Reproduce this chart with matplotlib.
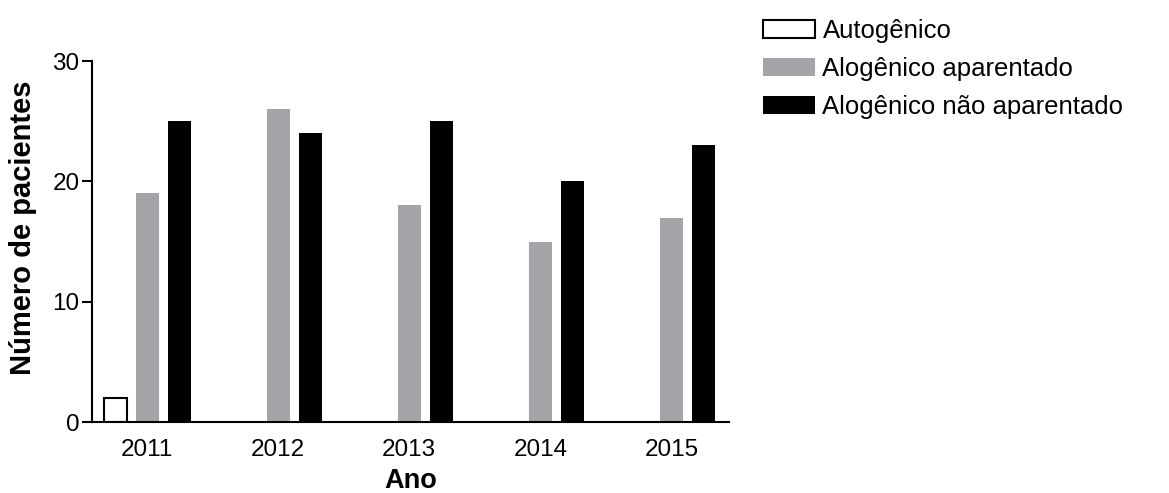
import matplotlib
matplotlib.use("Agg")
import matplotlib.pyplot as plt
import numpy as np

plt.rcParams["font.family"] = ["Liberation Sans", "DejaVu Sans"]

# dados
anos = ["2011", "2012", "2013", "2014", "2015"]
autogenico = [2, 0, 0, 0, 0]
alo_aparentado = [19, 26, 18, 15, 17]
alo_nao_aparentado = [25, 24, 25, 20, 23]

fig = plt.figure(figsize=(11.69, 4.93), dpi=100)
ax = fig.add_axes([0.0787, 0.144, 0.545, 0.732])

x = np.arange(len(anos))
w = 0.176
step = 0.244

# barras de zero nao aparecem no original
aut = np.array(autogenico, dtype=float)
mask = aut > 0
ax.bar(x[mask] - step, aut[mask], w, facecolor="white", edgecolor="black", linewidth=1.5,
       label="Autogênico")
ax.bar(x, alo_aparentado, w, color="#a5a5a9", label="Alogênico aparentado")
ax.bar(x + step, alo_nao_aparentado, w, color="black", label="Alogênico não aparentado")

ax.set_xlim(-0.42, 4.44)
ax.set_ylim(0, 30)
ax.set_yticks([0, 10, 20, 30])
ax.set_xticks(x)
ax.set_xticklabels(anos)
ax.tick_params(axis="x", length=0, pad=12, labelsize=17.5)
ax.tick_params(axis="y", length=7, width=1.5, labelsize=17.5, pad=2)
for s in ["top", "right"]:
    ax.spines[s].set_visible(False)
ax.spines["left"].set_linewidth(1.5)
ax.spines["bottom"].set_linewidth(1.5)

ax.set_xlabel("Ano", fontsize=19.5, fontweight="bold", labelpad=5)
ax.set_ylabel("Número de pacientes", fontsize=21, fontweight="bold")
ax.yaxis.set_label_coords(-0.086, 0.539)

fig.legend(loc="upper left", bbox_to_anchor=(0.653, 0.962), frameon=False, fontsize=18.5,
           handlelength=2.0, handleheight=0.7, handletextpad=0.3, labelspacing=0.55,
           borderaxespad=0, borderpad=0)

fig.savefig("out.png", dpi=100)
